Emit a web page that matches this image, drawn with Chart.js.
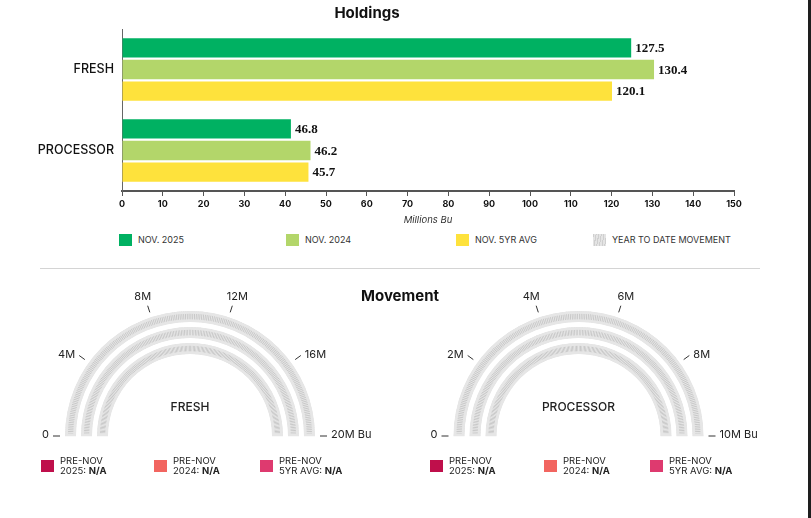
<!DOCTYPE html>
<html>
<head>
<meta charset="utf-8">
<script src="https://cdn.jsdelivr.net/npm/chart.js@4.4.1/dist/chart.umd.min.js"></script>
<style>
  body { margin: 0; background: #fff; font-family: Inter, "Noto Sans", sans-serif; color: #222; }
  #page { position: relative; width: 811px; height: 518px; overflow: hidden; }
  canvas { position: absolute; }
  .sq { position: absolute; width: 13px; height: 12px; }
  .lg { position: absolute; font-size: 9px; line-height: 12px; color: #333; white-space: nowrap; }
  .lg2 { position: absolute; font-size: 9.5px; line-height: 10px; color: #222; white-space: nowrap; }
  .hatch { background: repeating-linear-gradient(100deg, #cfcfcf 0 1px, #e4e4e4 1px 2.6px); }
  #divider { position: absolute; left: 40px; top: 268px; width: 720px; height: 1px; background: #d4d4d4; }
  #movement { position: absolute; left: 300px; width: 200px; top: 286px; text-align: center; font-weight: 700; font-size: 15px; color: #111; z-index: 2; }
  #edge { position: absolute; left: 808px; top: 0; width: 3px; height: 518px; background: #1e1e1e; }
</style>
</head>
<body>
<div id="page">
  <canvas id="holdings" width="800" height="231" style="left:0;top:0"></canvas>
  <div id="divider"></div>
  <div id="movement">Movement</div>
  <canvas id="gauge0" width="380" height="179" style="left:0;top:284px"></canvas>
  <canvas id="gauge1" width="381" height="179" style="left:388px;top:284px"></canvas>
  <div id="edge"></div>
</div>
<script>
// --- Holdings (Millions Bu) ---
const categories = ['FRESH', 'PROCESSOR'];
const seriesNames = ['NOV. 2025', 'NOV. 2024', 'NOV. 5YR AVG'];
const nov2025 = [127.5, 46.8];
const nov2024 = [130.4, 46.2];
const nov5yrAvg = [120.1, 45.7];
// the NOV. 2025 bars in the picture stop short of their printed values
const nov2025Drawn = [124.8, 41.4];
const xTicksMax = 150;
const xTicksStep = 10;

// --- Movement gauges ---
const gaugeNames = ['FRESH', 'PROCESSOR'];
const gaugeMax = [20, 10];
const gaugeStep = [4, 2];
const gaugeTickLabels = [
    ['0', '4M', '8M', '12M', '16M', '20M Bu'],
    ['0', '2M', '4M', '6M', '8M', '10M Bu'],
];
const preNov2025 = [null, null];
const preNov2024 = [null, null];
const preNov5yrAvg = [null, null];

const barColors = ['#00b162', '#b3d66a', '#fee23c'];
const preNovColors = ['#bf0f4b', '#f26560', '#de3a6f'];
const FONT = 'Inter, "Noto Sans", sans-serif';

// value labels at the end of each bar
const barValueLabels = {
    id: 'barValueLabels',
    afterDatasetsDraw(chart) {
        const ctx = chart.ctx;
        ctx.save();
        ctx.font = 'bold 13px "Liberation Serif", serif';
        ctx.fillStyle = '#111';
        ctx.textBaseline = 'middle';
        chart.data.datasets.forEach((ds, i) => {
            chart.getDatasetMeta(i).data.forEach((bar, j) => {
                ctx.fillText(ds.printed[j].toFixed(1), bar.x + 4, bar.y + 1);
            });
        });
        ctx.restore();
    }
};

new Chart(document.getElementById('holdings'), {
    type: 'bar',
    data: {
        labels: categories,
        datasets: [
            { label: seriesNames[0], data: nov2025Drawn, printed: nov2025, backgroundColor: barColors[0] },
            { label: seriesNames[1], data: nov2024, printed: nov2024, backgroundColor: barColors[1] },
            { label: seriesNames[2], data: nov5yrAvg, printed: nov5yrAvg, backgroundColor: barColors[2] },
        ],
    },
    options: {
        responsive: false,
        animation: false,
        events: [],
        indexAxis: 'y',
        categoryPercentage: 0.8,
        barPercentage: 0.9,
        layout: { padding: { left: 0, right: 66, top: 0, bottom: 0 } },
        plugins: {
            legend: { display: false },
            tooltip: { enabled: false },
            title: {
                display: true,
                text: 'Holdings',
                color: '#111',
                font: { family: FONT, size: 15, weight: 'bold' },
                padding: { top: 4, bottom: 7 },
            },
        },
        scales: {
            x: {
                min: 0,
                max: xTicksMax,
                ticks: { stepSize: xTicksStep, color: '#111', padding: 3, font: { family: FONT, size: 9, weight: 'bold' } },
                grid: { drawOnChartArea: false, drawTicks: true, tickLength: 5, color: '#555' },
                border: { display: true, color: '#555', width: 2 },
                title: {
                    display: true,
                    text: 'Millions Bu',
                    color: '#333',
                    font: { family: FONT, size: 9.5, style: 'italic' },
                    padding: { top: 0, bottom: 5 },
                },
                afterFit(scale) { scale.height = 40; },
            },
            y: {
                grid: { display: false },
                border: { display: true, color: '#666', width: 1 },
                ticks: { color: '#111', padding: 0, font: { family: FONT, size: 12.5, weight: 500 } },
                afterFit(scale) { scale.width = 122; },
            },
        },
    },
    plugins: [barValueLabels],
});

// --- gauges ---
const R = 125;
function hatchFill(context) {
    const chart = context.chart;
    const a = chart.chartArea;
    if (!a || !chart.ctx.createConicGradient) return '#dcdcdc';
    if (chart.$hatch) return chart.$hatch;
    const cx = (a.left + a.right) / 2;
    const cy = (a.top + a.bottom) / 2 + R / 2;
    const g = chart.ctx.createConicGradient(0, cx, cy);
    const n = 420;
    for (let i = 0; i < n; i++) {
        const t = i / n;
        g.addColorStop(t, '#e6e6e6');
        g.addColorStop(t + 0.5 / n, '#c8c8c8');
    }
    g.addColorStop(1, '#e6e6e6');
    chart.$hatch = g;
    return g;
}

const gaugeScale = {
    id: 'gaugeScale',
    afterDatasetsDraw(chart, args, opts) {
        const arc = chart.getDatasetMeta(0).data[0];
        if (!arc) return;
        const ctx = chart.ctx;
        const cx = arc.x, cy = arc.y, r = arc.outerRadius;
        ctx.save();
        ctx.strokeStyle = '#333';
        ctx.lineWidth = 1;
        ctx.fillStyle = '#222';
        ctx.font = '11px ' + FONT;
        opts.labels.forEach((text, i) => {
            const v = i * opts.step;
            const th = Math.PI * v / opts.max;
            const dx = -Math.cos(th), dy = -Math.sin(th);
            const x1 = cx + dx * (r + 5), y1 = cy + dy * (r + 5);
            const x2 = cx + dx * (r + 12), y2 = cy + dy * (r + 12);
            ctx.beginPath();
            ctx.moveTo(x1, y1);
            ctx.lineTo(x2, y2);
            ctx.stroke();
            ctx.textBaseline = 'middle';
            if (dx < -0.5) {
                ctx.textAlign = 'right';
                ctx.fillText(text, x2 - 4, y2 - 1);
            } else if (dx > 0.5) {
                ctx.textAlign = 'left';
                ctx.fillText(text, x2 + 4, y2 - 1);
            } else {
                ctx.textAlign = 'center';
                ctx.fillText(text, x2 + dx * 16, y2 - 9);
            }
        });
        ctx.textAlign = 'center';
        ctx.font = '500 12px ' + FONT;
        ctx.fillText(opts.name, cx, cy - 28.5);
        ctx.restore();
    }
};

gaugeNames.forEach((name, g) => {
    const track = () => ({
        data: [gaugeMax[g]],
        weight: 11,
        backgroundColor: hatchFill,
        borderColor: '#e6e6e6',
        borderWidth: 2.5,
        borderAlign: 'inner',
    });
    const gap = () => ({ data: [gaugeMax[g]], weight: 5, backgroundColor: 'rgba(0,0,0,0)', borderWidth: 0 });
    new Chart(document.getElementById('gauge' + g), {
        type: 'doughnut',
        data: { datasets: [track(), gap(), track(), gap(), track()] },
        options: {
            responsive: false,
            animation: false,
            events: [],
            rotation: -90,
            circumference: 180,
            radius: R,
            cutout: (82 / R * 100) + '%',
            layout: { padding: 0 },
            plugins: {
                legend: { display: false },
                tooltip: { enabled: false },
                gaugeScale: { name: name, max: gaugeMax[g], step: gaugeStep[g], labels: gaugeTickLabels[g] },
            },
        },
        plugins: [gaugeScale],
    });
});

// --- legends ---
const page = document.getElementById('page');
function addBox(cls, x, y, color) {
    const d = document.createElement('div');
    d.className = cls;
    d.style.left = x + 'px';
    d.style.top = y + 'px';
    if (color) d.style.background = color;
    page.appendChild(d);
}
function addText(cls, x, y, html) {
    const d = document.createElement('div');
    d.className = cls;
    d.style.left = x + 'px';
    d.style.top = y + 'px';
    d.innerHTML = html;
    page.appendChild(d);
}

const barLegendX = [119, 286, 456, 593];
seriesNames.forEach((s, i) => {
    addBox('sq', barLegendX[i], 234, barColors[i]);
    addText('lg', barLegendX[i] + 19, 234, s);
});
addBox('sq hatch', barLegendX[3], 234);
addText('lg', barLegendX[3] + 19, 234, 'YEAR TO DATE MOVEMENT');

const preNovNames = ['2025', '2024', '5YR AVG'];
const preNovSeries = [preNov2025, preNov2024, preNov5yrAvg];
const gaugeLegendX = [[41, 154, 260], [430, 544, 650]];
gaugeNames.forEach((name, g) => {
    preNovNames.forEach((p, i) => {
        const v = preNovSeries[i][g];
        addBox('sq', gaugeLegendX[g][i], 460, preNovColors[i]);
        addText('lg2', gaugeLegendX[g][i] + 19, 456,
            'PRE-NOV<br>' + p + ': <b>' + (v === null ? 'N/A' : v + 'M') + '</b>');
    });
});
</script>
</body>
</html>
